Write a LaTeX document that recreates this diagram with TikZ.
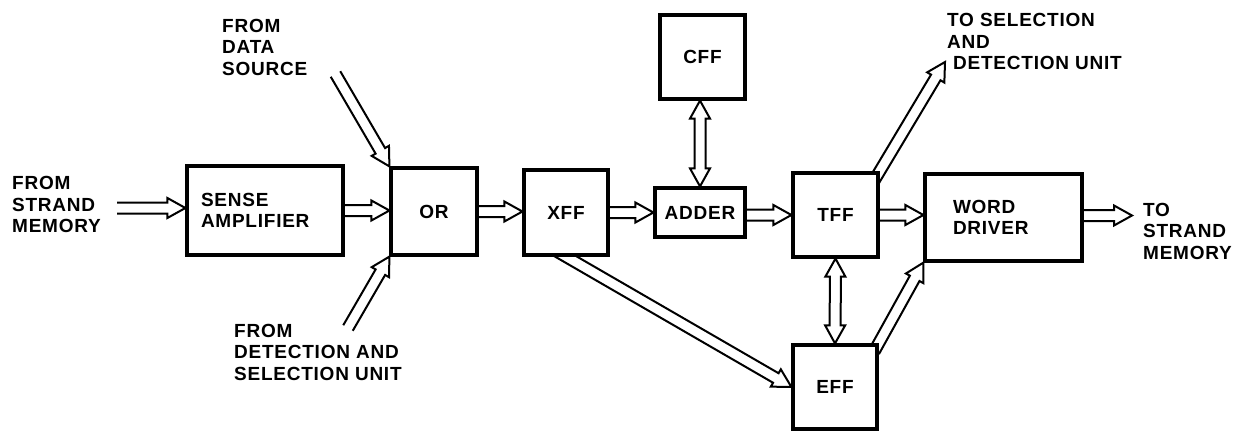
\documentclass[tikz,border=0pt]{standalone}
\usepackage{fontspec}
\setmainfont{Liberation Sans}[LetterSpace=4]
\usetikzlibrary{calc,backgrounds}
\newcommand\arrHL{18pt}
\newcommand\arrSW{5.5pt}
\newcommand\arrHW{10pt}
% hollow single-headed arrow, open tail
\newcommand\hollowarr[2]{%
  \coordinate (hS) at #1;
  \coordinate (hT) at #2;
  \coordinate (hB) at ($(hT)!\arrHL!(hS)$);
  \draw[conn] ($(hS)!\arrSW!90:(hT)$) -- ($(hB)!\arrSW!90:(hT)$) -- ($(hB)!\arrHW!90:(hT)$) -- (hT)
     -- ($(hB)!\arrHW!-90:(hT)$) -- ($(hB)!\arrSW!-90:(hT)$) -- ($(hS)!\arrSW!-90:(hT)$);
}
% hollow double-headed arrow
\newcommand\hollowdbl[2]{%
  \coordinate (hS) at #1;
  \coordinate (hT) at #2;
  \coordinate (hB) at ($(hT)!\arrHL!(hS)$);
  \coordinate (hA) at ($(hS)!\arrHL!(hT)$);
  \draw[conn] (hS) -- ($(hA)!\arrHW!90:(hT)$) -- ($(hA)!\arrSW!90:(hT)$) -- ($(hB)!\arrSW!90:(hT)$)
     -- ($(hB)!\arrHW!90:(hT)$) -- (hT) -- ($(hB)!\arrHW!-90:(hT)$) -- ($(hB)!\arrSW!-90:(hT)$)
     -- ($(hA)!\arrSW!-90:(hT)$) -- ($(hA)!\arrHW!-90:(hT)$) -- cycle;
}
\tikzset{
  box/.style={draw, line width=3.2pt, fill=white, inner sep=0pt, align=center},
  conn/.style={draw, line width=2pt, line join=miter},
  lbl/.style={align=left, inner sep=0pt, anchor=west},
}
\begin{document}
\begin{tikzpicture}[x=1pt, y=-1pt, font=\fontsize{19pt}{21.5pt}\selectfont\bfseries]
\useasboundingbox (0,0) rectangle (1239,431);
% boxes
\node[box, minimum width=156pt, minimum height=89pt, text width=128pt, inner xsep=14pt, align=left] (sa) at (265,210.5) {SENSE\\AMPLIFIER};
\node[box, minimum width=86pt, minimum height=87pt] (or) at (434,211.5) {OR};
\node[box, minimum width=84pt, minimum height=85pt] (xff) at (566,212.5) {XFF};
\node[box, minimum width=90pt, minimum height=49pt] (adder) at (700,212.5) {ADDER};
\node[box, minimum width=85pt, minimum height=84pt] (cff) at (702.5,57) {CFF};
\node[box, minimum width=85pt, minimum height=84pt] (tff) at (835.5,215) {TFF};
\node[box, minimum width=84pt, minimum height=84pt] (eff) at (835,387) {EFF};
\node[box, minimum width=157pt, minimum height=87pt, text width=101pt, inner xsep=28pt, align=left] (wd) at (1003.5,217.5) {WORD\\DRIVER};
% labels
\node[lbl] (lsmin) at (12,204.5) {FROM\\STRAND\\MEMORY};
\node[lbl] (lds) at (222,47) {FROM\\DATA\\SOURCE};
\node[lbl] (ldsu) at (234,352) {FROM\\DETECTION AND\\SELECTION UNIT};
\node[lbl] (lsdu) at (947,41.5) {TO SELECTION\\AND\\\hspace*{6pt}DETECTION UNIT};
\node[lbl] (lsmout) at (1143,231) {TO\\STRAND\\MEMORY};
% free ends
\coordinate (smin) at (117,208);
\coordinate (smout) at (1132,215.5);
\coordinate (ds) at (335.5,74);
\coordinate (dsu) at (348,328);
\coordinate (tsel) at (945,62);
% connectors
\begin{pgfonlayer}{background}
\hollowarr{(smin)}{(sa.west |- smin)}
\hollowarr{(sa.east)}{(or.west |- sa.east)}
\hollowarr{(ds)}{(or.north west)}
\hollowarr{(dsu)}{(or.south west)}
\hollowarr{(or.east)}{(xff.west |- or.east)}
\hollowarr{(xff.east)}{(adder.west |- xff.east)}
\hollowarr{(adder.east |- tff.west)}{(tff.west)}
\hollowarr{(tff.east)}{(wd.west |- tff.east)}
\hollowarr{(wd.east |- smout)}{(smout)}
\hollowarr{($(eff.west)!1.1!(xff.south)$)}{(eff.west)}
\hollowarr{($(tsel)!1.08!(tff.north east)$)}{(tsel)}
\hollowarr{($(wd.south west)!1.1!(eff.north east)$)}{(wd.south west)}
\hollowdbl{(adder.north |- cff.south)}{(adder.north)}
\hollowdbl{(tff.south)}{(eff.north)}
\end{pgfonlayer}
\end{tikzpicture}
\end{document}
